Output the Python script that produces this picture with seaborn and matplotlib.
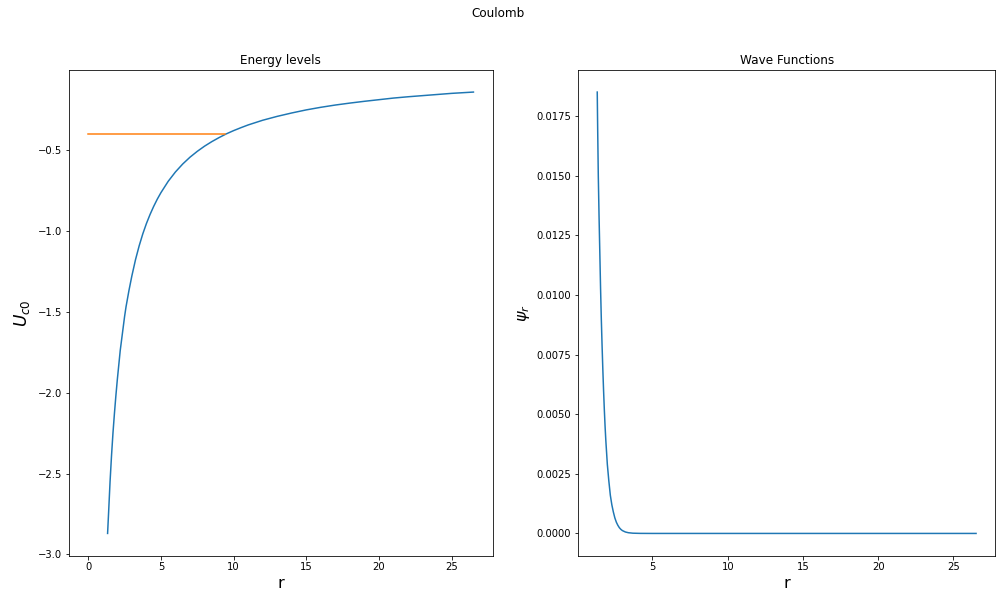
import matplotlib
matplotlib.use("Agg")
import matplotlib.pyplot as plt
import matplotlib.ticker as mticker
import seaborn as sns

# Energy levels panel: Coulomb potential curve
r_pot = [1.33, 1.4, 1.5, 1.6, 1.7, 1.8, 1.9, 2.0, 2.1, 2.2, 2.3, 2.4, 2.5, 2.6, 2.8, 3.0,
         3.25, 3.5, 3.75, 4.0, 4.25, 4.5, 4.75, 5.0, 5.5, 6.0, 6.5, 7.0, 7.5, 8.0, 8.5, 9.0,
         9.5, 10.0, 10.5, 11.0, 12.0, 13.0, 14.0, 15.0, 16.0, 17.0, 18.0, 19.0, 20.0, 21.0,
         22.0, 23.0, 24.0, 25.0, 26.5]
u_pot = [-2.87, -2.74, -2.55, -2.39, -2.25, -2.13, -2.02, -1.92, -1.83, -1.74, -1.67, -1.60,
         -1.53, -1.47, -1.37, -1.28, -1.18, -1.095, -1.021, -0.957, -0.901, -0.851, -0.806,
         -0.766, -0.696, -0.638, -0.589, -0.547, -0.511, -0.479, -0.451, -0.426, -0.403,
         -0.383, -0.365, -0.348, -0.319, -0.295, -0.274, -0.255, -0.239, -0.225, -0.213,
         -0.202, -0.192, -0.182, -0.174, -0.167, -0.160, -0.153, -0.145]

# Energy level (orange line)
r_level = [0.0, 9.4]
e_level = [-0.405, -0.405]

# Wave function panel
r_wave = [1.33, 1.36, 1.4, 1.45, 1.5, 1.55, 1.6, 1.65, 1.7, 1.75, 1.8, 1.85, 1.9, 1.95, 2.0,
          2.1, 2.2, 2.3, 2.4, 2.5, 2.6, 2.7, 2.8, 2.9, 3.0, 3.2, 3.4, 3.7, 4.2, 5.0, 10.0,
          15.0, 20.0, 26.5]
psi_wave = [0.0185, 0.0169, 0.0150, 0.0133, 0.0118, 0.0103, 0.0090, 0.0079, 0.0069, 0.0060,
            0.0052, 0.0045, 0.0039, 0.0034, 0.0029, 0.0022, 0.0016, 0.0012, 0.0009, 0.00065,
            0.00047, 0.00034, 0.00024, 0.00017, 0.00012, 0.00006, 0.00003, 0.00001, 0.000002,
            0.0, 0.0, 0.0, 0.0, 0.0]

W, H = 996, 596
fig = plt.figure(figsize=(W / 72, H / 72), dpi=72)
fig.patch.set_facecolor("white")

ax1 = fig.add_axes([69 / W, 1 - 555.5 / H, (492.7 - 69) / W, (555.5 - 70) / H])
ax2 = fig.add_axes([578.3 / W, 1 - 555.5 / H, (995 - 578.3) / W, (555.5 - 70) / H])

sns.lineplot(x=r_pot, y=u_pot, ax=ax1, color="#1f77b4", sort=False, estimator=None, linewidth=1.5)
sns.lineplot(x=r_level, y=e_level, ax=ax1, color="#ff7f0e", sort=False, estimator=None, linewidth=1.5)
ax1.set_title("Energy levels", fontsize=12)
ax1.set_xlabel("r", fontsize=16)
ax1.set_ylabel(r"$U_{c0}$", fontsize=17, labelpad=6)
ax1.set_xticks([0, 5, 10, 15, 20, 25])
ax1.set_yticks([-3.0, -2.5, -2.0, -1.5, -1.0, -0.5])

sns.lineplot(x=r_wave, y=psi_wave, ax=ax2, color="#1f77b4", sort=False, estimator=None, linewidth=1.5)
ax2.set_title("Wave Functions", fontsize=12)
ax2.set_xlabel("r", fontsize=16)
ax2.set_ylabel(r"$\psi_r$", fontsize=16)
ax2.set_xticks([5, 10, 15, 20, 25])
ax2.set_yticks([0.0, 0.0025, 0.005, 0.0075, 0.01, 0.0125, 0.015, 0.0175])
ax2.yaxis.set_major_formatter(mticker.FormatStrFormatter("%.4f"))

for ax in (ax1, ax2):
    ax.tick_params(labelsize=10)

fig.suptitle("Coulomb", fontsize=12, y=0.988, va="top")
fig.savefig("out.png", dpi=72, facecolor="white")
